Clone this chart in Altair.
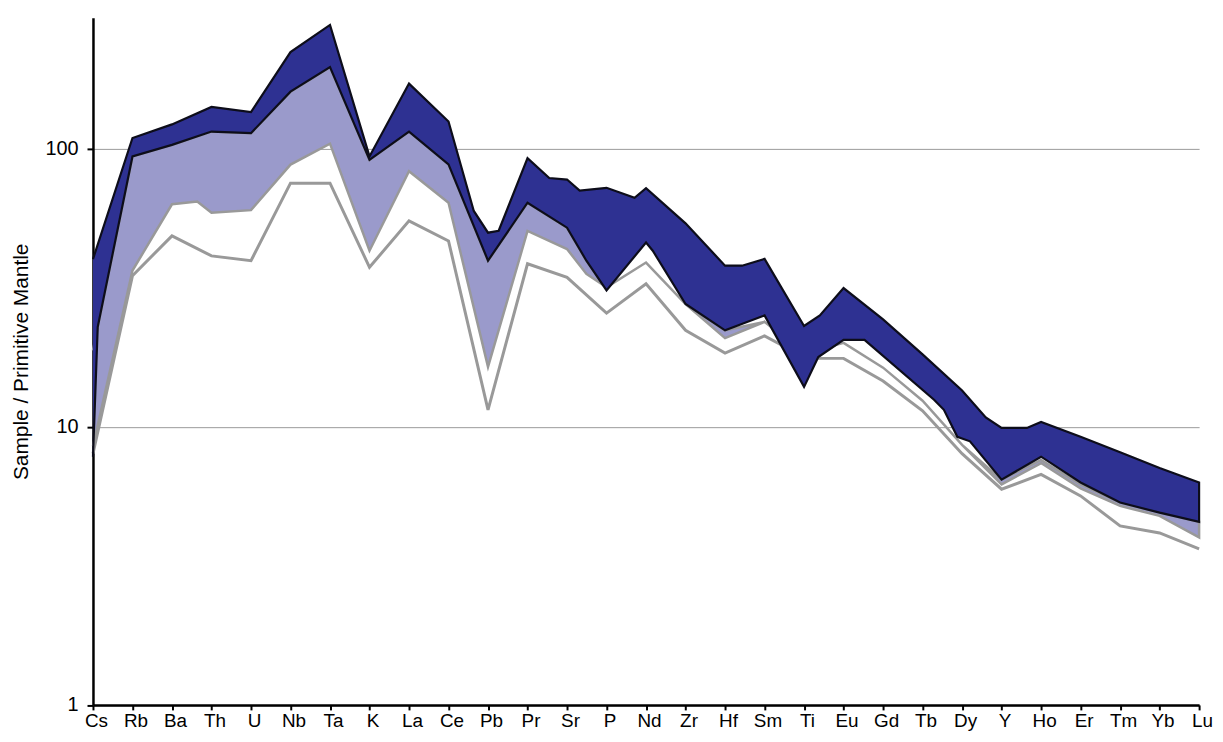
import altair as alt
import pandas as pd

elements = ["Cs", "Rb", "Ba", "Th", "U", "Nb", "Ta", "K", "La", "Ce", "Pb", "Pr", "Sr", "P",
            "Nd", "Zr", "Hf", "Sm", "Ti", "Eu", "Gd", "Tb", "Dy", "Y", "Ho", "Er", "Tm", "Yb", "Lu"]

# dark field: upper envelope (position = element index, value = sample / primitive mantle)
navy_top_x = [0, 1, 2, 3, 4, 5, 6, 7, 8, 9, 9.64, 10, 10.27, 11, 11.55, 12, 12.32, 13, 13.71, 14,
              15, 16, 16.43, 17, 18, 18.4, 19, 20, 21, 22, 22.6, 23, 23.64, 24, 25, 26, 27, 28]
navy_top_v = [40, 109, 122, 141, 135, 222, 278, 93.6, 171, 125, 59.6, 49.8, 50.6, 92.3, 78.3, 77.3,
              70.5, 72.2, 66.5, 72.0, 53.8, 37.9, 37.9, 40.1, 23.0, 25.1, 31.5, 24.3, 18.2, 13.5,
              10.8, 9.9, 9.9, 10.4, 9.2, 8.1, 7.1, 6.3]

# dark field: lower envelope
navy_bot_x = [0, 0.12, 1, 2, 3, 4, 5, 6, 7, 8, 9, 10, 11, 12, 12.49, 13, 14, 14.17, 15, 16, 17,
              18, 18.36, 19, 19.53, 21.29, 21.54, 21.88, 22.2, 23, 24, 25, 26, 27, 28]
navy_bot_v = [7.8, 22.8, 93.6, 103, 115, 113.5, 160, 196, 91, 115, 87.7, 39.5, 63.8, 51.9, 39.5,
              30.9, 45.9, 42.9, 27.6, 22.2, 25.1, 13.9, 17.8, 20.5, 20.5, 12.5, 11.5, 9.2, 8.86,
              6.45, 7.8, 6.3, 5.34, 4.91, 4.55]

# light field: upper envelope
light_top_x = [0, 1, 2, 3, 4, 5, 6, 7, 8, 9, 10, 11, 12, 12.49, 13, 14, 15, 16, 17, 18, 19, 20,
               21, 22, 23, 24, 25, 26, 27, 28]
light_top_v = [18.8, 93.6, 103, 115, 113.5, 160, 196, 91, 115, 87.7, 39.5, 63.8, 51.9, 39.5, 31.7,
               38.9, 27.6, 22.2, 23.8, 18.3, 20.0, 16.3, 12.4, 8.6, 6.45, 7.6, 6.2, 5.34, 4.91, 4.55]

# light field: lower envelope
light_bot_x = [0, 1, 2, 2.64, 3, 4, 5, 6, 7, 8, 9, 10, 11, 12, 12.49, 13, 14, 15, 16, 17, 18, 19,
               20, 21, 22, 23, 24, 25, 26, 27, 28]
light_bot_v = [8.5, 36.4, 63, 64.5, 58.7, 60, 87.5, 104, 42.9, 82.8, 63.8, 16.4, 50.5, 43.5, 35.4,
               31.7, 38.9, 27.6, 20.8, 23.8, 18.3, 20.0, 16.3, 12.4, 8.6, 6.2, 7.4, 6.0, 5.19,
               4.78, 4.0]

# grey reference pattern
grey_x = [0, 1, 2, 3, 4, 5, 6, 7, 8, 9, 10, 11, 12, 13, 14, 15, 16, 17, 18, 18.28, 19, 20, 21,
          22, 23, 24, 25, 26, 27, 28]
grey_v = [8.0, 34.9, 48.5, 41.1, 39.5, 75, 75, 37.4, 54.9, 46.5, 11.5, 38.5, 34.4, 25.6, 32.6,
          22.2, 18.4, 21.2, 17.8, 17.6, 17.6, 14.6, 11.4, 8.0, 5.96, 6.74, 5.64, 4.4, 4.15, 3.64]


def polygon(top_x, top_v, bot_x, bot_v):
    xs = list(top_x) + list(reversed(bot_x))
    vs = list(top_v) + list(reversed(bot_v))
    return pd.DataFrame({"x": xs, "v": vs, "o": list(range(len(xs)))})


navy_df = polygon(navy_top_x, navy_top_v, navy_bot_x, navy_bot_v)
light_df = polygon(light_top_x, light_top_v, light_bot_x, light_bot_v)
grey_df = pd.DataFrame({"x": grey_x, "v": grey_v, "o": list(range(len(grey_x)))})

label_expr = "[" + ",".join("'" + e + "'" for e in elements) + "][datum.value]"

xscale = alt.Scale(domain=[0, 28], nice=False, zero=False)
yscale = alt.Scale(type="log", domain=[1, 295], nice=False)

x_axis = alt.Axis(values=list(range(29)), labelExpr=label_expr, title=None, grid=False,
                  labelOverlap=False, labelFlush=False, labelAngle=0)
y_axis = alt.Axis(values=[1, 10, 100], format="d", title="Sample / Primitive Mantle",
                  grid=True, labelOverlap=False)


def enc(chart):
    return chart.encode(
        x=alt.X("x:Q", scale=xscale, axis=x_axis),
        y=alt.Y("v:Q", scale=yscale, axis=y_axis),
        order="o:Q",
    )


light = enc(alt.Chart(light_df).mark_line(fill="#9a9acb", stroke="#999999", strokeWidth=2.5))
grey = enc(alt.Chart(grey_df).mark_line(color="#999999", strokeWidth=3))
navy = enc(alt.Chart(navy_df).mark_line(fill="#2e3192", stroke="#0d0d1a", strokeWidth=2.2))

chart = alt.layer(light, grey, navy).properties(
    width=1113, height=691.5,
    autosize=alt.AutoSizeParams(type="none"),
    padding={"left": 85.5, "top": 7.5, "right": 16, "bottom": 30},
).configure_view(stroke=None).configure_axis(
    domainColor="black", domainWidth=2.5, tickColor="black", tickWidth=2,
    labelFont="Liberation Sans", labelFontSize=19, labelColor="black",
    titleFont="Liberation Sans", titleFontSize=21, titleFontWeight="normal",
    titleColor="black", gridColor="#9a9a9a", gridWidth=1,
).configure_axisX(
    tickSize=5, labelPadding=2, labelOverlap=False, labelOffset=3,
).configure_axisY(
    tickSize=6, labelFontSize=20, labelPadding=9, titlePadding=14,
)

chart.save("out.html", embed_options={"renderer": "svg", "actions": False})
